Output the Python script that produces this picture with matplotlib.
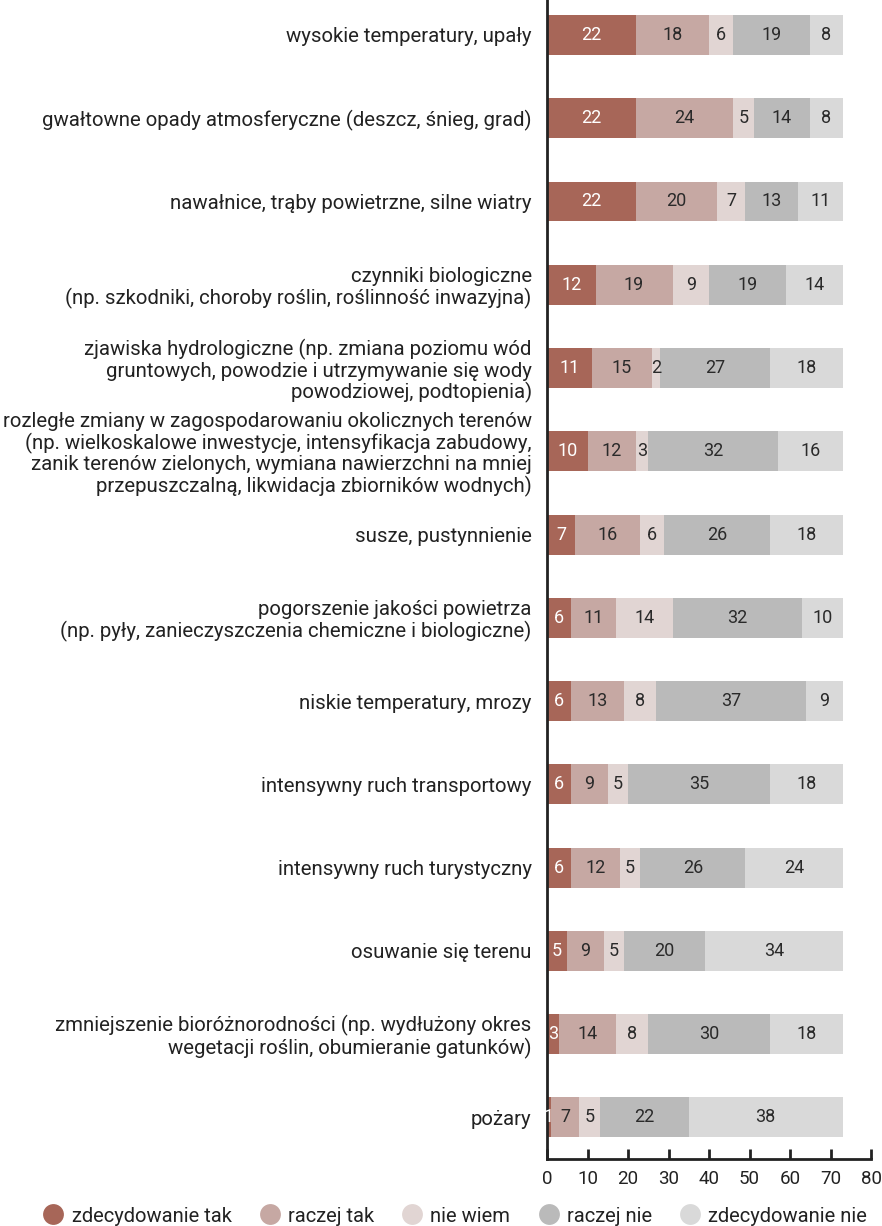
import matplotlib
matplotlib.use("Agg")
import matplotlib.pyplot as plt
from matplotlib.lines import Line2D
import numpy as np

plt.rcParams['font.family'] = ['Roboto', 'DejaVu Sans']

categories = [
    "wysokie temperatury, upały",
    "gwałtowne opady atmosferyczne (deszcz, śnieg, grad)",
    "nawałnice, trąby powietrzne, silne wiatry",
    "czynniki biologiczne\n(np. szkodniki, choroby roślin, roślinność inwazyjna)",
    "zjawiska hydrologiczne (np. zmiana poziomu wód\ngruntowych, powodzie i utrzymywanie się wody\npowodziowej, podtopienia)",
    "rozległe zmiany w zagospodarowaniu okolicznych terenów\n(np. wielkoskalowe inwestycje, intensyfikacja zabudowy,\nzanik terenów zielonych, wymiana nawierzchni na mniej\nprzepuszczalną, likwidacja zbiorników wodnych)",
    "susze, pustynnienie",
    "pogorszenie jakości powietrza\n(np. pyły, zanieczyszczenia chemiczne i biologiczne)",
    "niskie temperatury, mrozy",
    "intensywny ruch transportowy",
    "intensywny ruch turystyczny",
    "osuwanie się terenu",
    "zmniejszenie bioróżnorodności (np. wydłużony okres\nwegetacji roślin, obumieranie gatunków)",
    "pożary",
]

series_names = ["zdecydowanie tak", "raczej tak", "nie wiem", "raczej nie", "zdecydowanie nie"]

zdecydowanie_tak = [22, 22, 22, 12, 11, 10, 7, 6, 6, 6, 6, 5, 3, 1]
raczej_tak       = [18, 24, 20, 19, 15, 12, 16, 11, 13, 9, 12, 9, 14, 7]
nie_wiem         = [6, 5, 7, 9, 2, 3, 6, 14, 8, 5, 5, 5, 8, 5]
raczej_nie       = [19, 14, 13, 19, 27, 32, 26, 32, 37, 35, 26, 20, 30, 22]
zdecydowanie_nie = [8, 8, 11, 14, 18, 16, 18, 10, 9, 18, 24, 34, 18, 38]

x_ticks = [0, 10, 20, 30, 40, 50, 60, 70, 80]

series = [zdecydowanie_tak, raczej_tak, nie_wiem, raczej_nie, zdecydowanie_nie]
colors = ["#A76658", "#C6A8A3", "#E1D5D3", "#BABABA", "#D9D9D9"]
text_colors = ["white", "#2a2a2a", "#2a2a2a", "#2a2a2a", "#2a2a2a"]

fig = plt.figure(figsize=(8.82, 12.26), dpi=100)
ax = fig.add_axes([547/882, 1 - 1159/1226, (871-547)/882, 1159/1226])

y = np.arange(len(categories))
left = np.zeros(len(categories))
for vals, col, tcol in zip(series, colors, text_colors):
    vals = np.array(vals, dtype=float)
    ax.barh(y, vals, left=left, height=0.48, color=col, edgecolor='none')
    for yi, l, v in zip(y, left, vals):
        ax.text(l + v / 2, yi, f"{int(v)}", ha='center', va='center',
                fontsize=13, color=tcol)
    left += vals

ax.set_xlim(0, 80)
ax.set_ylim(len(categories) - 0.5, -0.42)
ax.set_yticks(y)
ax.set_yticklabels(categories, fontsize=14.7, color="#222222", linespacing=1.09)
ax.set_xticks(x_ticks)
ax.set_xticklabels([str(t) for t in x_ticks], fontsize=13.5, color="#222222")
ax.tick_params(axis='y', length=0, pad=11)
ax.tick_params(axis='x', direction='in', length=7, width=2, pad=8, color="#222222")
for s in ['top', 'right']:
    ax.spines[s].set_visible(False)
for s in ['left', 'bottom']:
    ax.spines[s].set_linewidth(2)
    ax.spines[s].set_color("#222222")

handles = [Line2D([0], [0], marker='o', linestyle='none', markersize=15,
                  markerfacecolor=c, markeredgecolor='none') for c in colors]
fig.legend(handles, series_names, loc='center', bbox_to_anchor=(0.515, 1 - 1216/1226),
           ncol=5, frameon=False, fontsize=14.5, handletextpad=0.3,
           handlelength=1.2, columnspacing=1.3, labelcolor="#222222")

fig.savefig("out.png", dpi=100)
